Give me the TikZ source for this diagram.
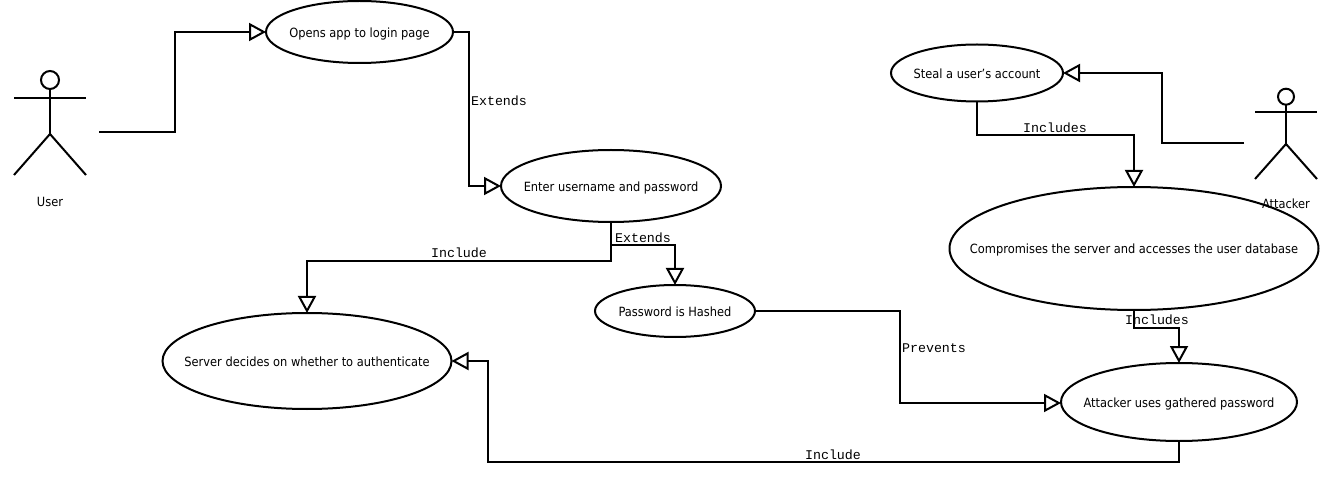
\documentclass[tikz,border=0pt]{standalone}
\usepackage{fontspec}
\setmainfont[FakeStretch=0.9]{DejaVu Sans}
\setmonofont{Liberation Mono}
\usetikzlibrary{shapes.geometric,arrows.meta}
\newcommand{\uctext}[1]{\makebox[0pt][c]{\smash{\raisebox{-5.3pt}{#1}}}}
\tikzset{
  x=1pt,y=-1pt,
  usecase/.style={ellipse,draw=black,line width=2pt,fill=white,inner sep=0pt,outer sep=0pt,
    font=\fontsize{12.7}{14}\selectfont,text=black},
  conn/.style={draw=black,line width=2pt,line join=miter,-{Triangle[open,length=17pt,width=18pt,line width=2pt]}},
  stick/.style={draw=black,line width=2pt},
  lab/.style={font=\ttfamily\fontsize{13.3}{15}\selectfont,inner sep=0pt,text=black},
  actorlab/.style={font=\fontsize{12.7}{14}\selectfont,inner sep=0pt,text=black}
}
\begin{document}
\begin{tikzpicture}
\useasboundingbox (0,0) rectangle (1328,478);
\fill[white] (0,0) rectangle (1328,478);
% use cases
\node[usecase,minimum width=187pt,minimum height=62pt] (opens) at (359.5,32) {\uctext{Opens app to login page}};
\node[usecase,minimum width=220pt,minimum height=72pt] (enter) at (611,186) {\uctext{Enter username and password}};
\node[usecase,minimum width=160pt,minimum height=52pt] (hashed) at (675,311) {\uctext{Password is Hashed}};
\node[usecase,minimum width=289pt,minimum height=96pt] (server) at (307,361) {\uctext{Server decides on whether to authenticate}};
\node[usecase,minimum width=172pt,minimum height=57pt] (steal) at (977,73) {\uctext{Steal a user's account}};
\node[usecase,minimum width=369pt,minimum height=123pt] (comp) at (1134,248.5) {\uctext{Compromises the server and accesses the user database}};
\node[usecase,minimum width=236pt,minimum height=78pt] (uses) at (1179,402) {\uctext{Attacker uses gathered password}};
% actors
\draw[stick] (50,80) circle (9);
\draw[stick] (50,89) -- (50,134);
\draw[stick] (14,98) -- (86,98);
\draw[stick] (14,175) -- (50,134) -- (86,175);
\node[actorlab] (userlab) at (50,201.5) {User};
\draw[stick] (1286,96.7) circle (8);
\draw[stick] (1286,105) -- (1286,144);
\draw[stick] (1255,112) -- (1317,112);
\draw[stick] (1255,179) -- (1286,144) -- (1317,179);
\node[actorlab] (attlab) at (1286,204) {Attacker};
\coordinate (ufree) at (99,132);
\coordinate (afree) at (1244,143);
% connectors
\draw[conn] (ufree) -- (175,132) -- (175,32) -- (opens.west);
\draw[conn] (opens.east) -- (469,32) -- (469,186) -- (enter.west);
\draw[conn] (enter.south) -- (611,261) -- (307,261) -- (server.north);
\draw[conn] (enter.south) -- (611,245) -- (675,245) -- (hashed.north);
\draw[conn] (hashed.east) -- (900,311) -- (900,403) -- (1061,403);
\draw[conn] (steal.south) -- (977,135) -- (1134,135) -- (comp.north);
\draw[conn] (afree) -- (1162,143) -- (1162,73) -- (steal.east);
\draw[conn] (comp.south) -- (1134,328) -- (1179,328) -- (uses.north);
\draw[conn] (uses.south) -- (1179,462) -- (488,462) -- (488,361) -- (server.east);
% labels
\node[lab] (l1) at (499,101) {Extends};
\node[lab] (l2) at (459,253) {Include};
\node[lab] (l3) at (643,238) {Extends};
\node[lab] (l4) at (934,348) {Prevents};
\node[lab] (l5) at (1055,128) {Includes};
\node[lab] (l6) at (1157,320) {Includes};
\node[lab] (l7) at (833,455) {Include};
\end{tikzpicture}
\end{document}
